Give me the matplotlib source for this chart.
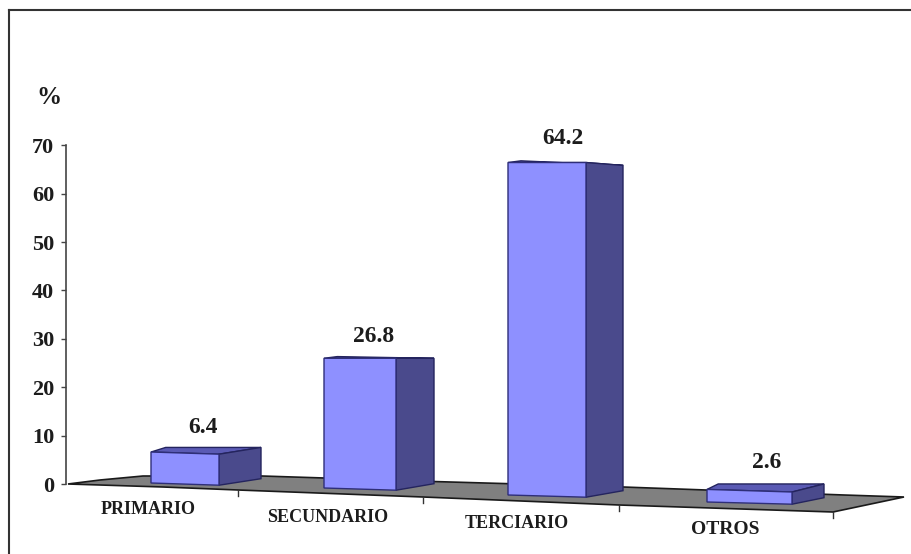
import matplotlib
matplotlib.use("Agg")
import matplotlib.pyplot as plt
from matplotlib.lines import Line2D
from matplotlib.patches import Polygon

# Data
categories = ["PRIMARIO", "SECUNDARIO", "TERCIARIO", "OTROS"]
values = [6.4, 26.8, 64.2, 2.6]
y_ticks = [0, 10, 20, 30, 40, 50, 60, 70]

# Layout of the pseudo-3D scene (x in figure pixels, y offsets in pixels)
front_left = [151, 324, 508, 707]
front_right = [219, 396, 586, 792]
side_right = [261, 434, 623, 824]
base_drop = [-1, 4, 11, 18]
height_scale = [1.0, 1.0, 1.07, 1.0]
value_dx = [-3, -5, -3, 1]
value_dy = [25, 22, 24, 27]
label_xy = [(148, 510), (328, 517.5), (517, 523.5), (725, 529.5)]
label_size = [13, 13, 13, 14]
floor_x = [68, 100, 143, 262, 433, 623, 844, 904, 833, 619, 423, 238, 163, 100]
floor_y = [484, 480, 476, 476, 481.5, 487, 495, 497, 512, 505, 497, 490, 487, 485]
floor_ticks = [(238, 490), (423, 497), (619, 505), (833, 512)]

PX = 4.84
Y0 = 484
W, H = 912, 554
FRONT = "#8E90FF"
SIDE = "#4A4A8C"
TOP = "#5A5AB4"
FLOOR = "#808080"
EDGE = "#2E2E78"
SERIF = "Liberation Serif"
INK = "#1c1c1c"


def py(px):
    return (Y0 - px) / PX


fig = plt.figure(figsize=(W / 100, H / 100), dpi=100, facecolor="white")
ax = fig.add_axes([0, 0, 1, 1])
ax.set_xlim(0, W)
ax.set_ylim(py(H), py(0))
ax.patch.set_visible(False)

for s in ["top", "right", "bottom"]:
    ax.spines[s].set_visible(False)
ax.spines["left"].set_position(("data", 66))
ax.spines["left"].set_bounds(0, 70)
ax.spines["left"].set_color("#444444")
ax.spines["left"].set_linewidth(1.2)
ax.set_xticks([])
ax.set_yticks(y_ticks)
ax.tick_params(axis="y", length=3.6, width=1.0, color="#444444", pad=5,
               labelsize=16, labelcolor=INK)
for t in ax.get_yticklabels():
    t.set_fontfamily(SERIF)
    t.set_fontweight("bold")

# Outer frame: top and left only
fig.add_artist(Line2D([9.5 / W, 9.5 / W], [0, 1 - 9.5 / H], color="#333333", lw=1.5))
fig.add_artist(Line2D([9.5 / W, 1], [1 - 9.5 / H, 1 - 9.5 / H], color="#333333", lw=1.5))

ax.text(49, py(97), "%", family=SERIF, weight="bold", size=18, color=INK,
        ha="center", va="center")

# Floor
ax.add_patch(Polygon(list(zip(floor_x, [py(v) for v in floor_y])), closed=True,
                     facecolor=FLOOR, edgecolor="#1a1a1a", lw=1.2, zorder=1))
for tx, ty in floor_ticks:
    ax.plot([tx, tx], [py(ty), py(ty + 6)], color="#333333", lw=1.0, zorder=1)

# Bars
for i, v in enumerate(values):
    x0, x1, x2 = front_left[i], front_right[i], side_right[i]
    base = py(Y0 + base_drop[i])
    top = base + v * height_scale[i]
    slant_b = 2.2 / PX
    slant_t = max(0.0, 0.6 * (1 - v / 25))
    rise_b = 6.5 / PX
    rise_t = max(-0.6, 1.25 - 0.047 * v)
    x_back = x0 + 0.35 * (x2 - x1)

    ax.add_patch(Polygon([(x0, top), (x1, top - slant_t),
                          (x2, top + rise_t), (x_back, top + max(rise_t, 0.35))],
                         closed=True, facecolor=TOP, edgecolor="#24245e", lw=1.0, zorder=2))
    ax.add_patch(Polygon([(x1, top - slant_t), (x2, top + rise_t),
                          (x2, base - slant_b + rise_b), (x1, base - slant_b)],
                         closed=True, facecolor=SIDE, edgecolor="#24245e", lw=1.0, zorder=3))
    ax.add_patch(Polygon([(x0, top), (x1, top - slant_t),
                          (x1, base - slant_b), (x0, base)],
                         closed=True, facecolor=FRONT, edgecolor=EDGE, lw=1.0, zorder=4))
    ax.text((x0 + x2) / 2 + value_dx[i], top + value_dy[i] / PX, f"{v:.1f}", family=SERIF,
            weight="bold", size=17, color=INK, ha="center", va="center", zorder=5)

# Category labels
for name, (lx, ly), sz in zip(categories, label_xy, label_size):
    ax.text(lx, py(ly), name, family=SERIF, weight="bold", size=sz, color=INK,
            ha="center", va="center")

fig.savefig("out.png", dpi=100)
